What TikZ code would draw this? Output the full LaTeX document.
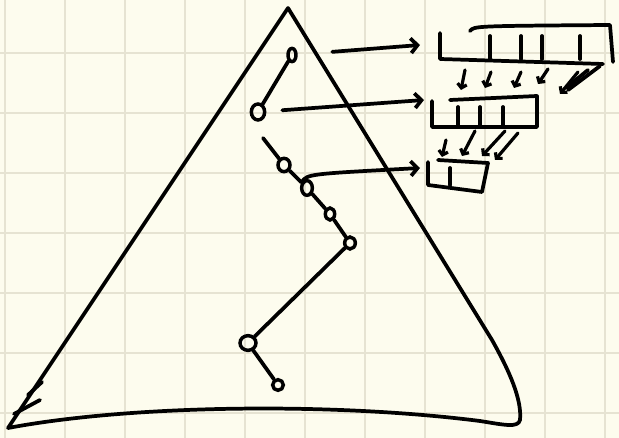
\documentclass[tikz,border=0pt]{standalone}
\usetikzlibrary{arrows.meta, shapes.geometric}
\definecolor{paper}{HTML}{FDFCEE}
\definecolor{gridline}{HTML}{E6E3D2}

\begin{document}
\begin{tikzpicture}[
    x=0.75pt, y=-0.75pt,
    ink/.style={line width=2.8pt, line cap=round, line join=round},
    knot/.style={draw, ellipse, line width=2.6pt, inner sep=0pt},
    push/.style={ink, -{Straight Barb[length=5pt, width=11pt]}},
    drop/.style={line width=2.4pt, line cap=round, -{Straight Barb[length=3pt, width=7pt]}}
  ]
  \fill[paper] (0,0) rectangle (619,438);
  \useasboundingbox (0,0) rectangle (619,438);
  % squared paper
  \foreach \x in {5,65,...,605} \draw[gridline, line width=0.9pt] (\x,0) -- (\x,438);
  \foreach \y in {53,113,...,413} \draw[gridline, line width=0.9pt] (0,\y) -- (619,\y);

  % the big triangle
  \draw[ink] (8,428) -- (288,8) -- (492,340)
    .. controls (510,372) and (522,400) .. (520,420)
    .. controls (518,428) and (505,425) .. (480,421)
    .. controls (330,402) and (130,405) .. (8,428);
  \draw[ink] (14,414) -- (40,400);
  \draw[ink] (28,395) -- (42,382);

  % path down the tree
  \node[knot, minimum width=6pt, minimum height=10pt] (k1) at (292,55) {};
  \node[knot, minimum width=10pt, minimum height=12pt] (k2) at (258,112) {};
  \node[knot, minimum width=9pt, minimum height=10pt] (k3) at (284,165) {};
  \node[knot, minimum width=8pt, minimum height=11pt] (k4) at (307,188) {};
  \node[knot, minimum width=7pt, minimum height=9pt] (k5) at (330,214) {};
  \node[knot, minimum width=8pt, minimum height=9pt] (k6) at (350,243) {};
  \node[knot, minimum width=12pt, minimum height=11pt] (k7) at (248,343) {};
  \node[knot, minimum width=8pt, minimum height=8pt] (k8) at (278,385) {};
  \coordinate (tail) at (263,138);

  \draw[ink] (k1) -- (k2);
  \draw[ink] (tail) -- (k3) -- (k4) -- (k5) -- (k6);
  \draw[ink] (k6) -- (k7) -- (k8);

  % arrays on the right
  \coordinate (in1) at (420,45);
  \coordinate (in2) at (424,100);
  \coordinate (in3) at (420,168);

  \draw[ink] (440,33) -- (440,59) -- (603,64);
  \draw[ink] (470,31) .. controls (474,26) .. (610,25) -- (613,62);
  \foreach \x in {490,521,542,580} \draw[ink] (\x,36) -- (\x,59);
  \draw[drop] (465,70) -- (461,90);
  \draw[drop] (491,72) -- (485,88);
  \draw[drop] (521,72) -- (514,88);
  \draw[drop] (548,69) -- (538,84);
  \draw[ink] (600,66) -- (568,90);
  \draw[ink] (588,70) -- (566,88);
  \draw[drop] (578,72) -- (560,94);

  \draw[ink] (432,101) -- (432,127) -- (537,127) -- (537,96) -- (450,100);
  \foreach \x in {458,480,503} \draw[ink] (\x,107) -- (\x,127);
  \draw[drop] (446,140) -- (442,157);
  \draw[drop] (475,131) -- (462,156);
  \draw[drop] (505,131) -- (482,156);
  \draw[drop] (518,133) -- (495,160);

  \draw[ink] (428,162) -- (428,185) -- (482,192) -- (488,163) -- (438,160);
  \draw[ink] (450,168) -- (450,185);

  % pointers into the arrays
  \draw[push, shorten <=26pt] (k1) -- (in1);
  \draw[push, shorten <=12pt] (k2) -- (in2);
  \draw[push] (k4.north west) .. controls (308,174) .. (in3);
\end{tikzpicture}
\end{document}
